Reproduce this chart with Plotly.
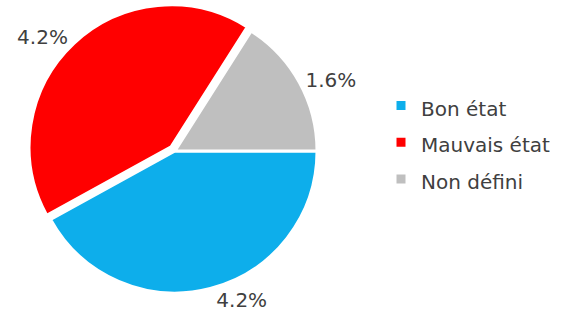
import plotly.graph_objects as go

# Condition of the inventory
categories = ["Bon état", "Mauvais état", "Non défini"]
values = [4.2, 4.2, 1.6]
colors = ["#0DAEEB", "#FF0000", "#BFBFBF"]
pulls = [0, 0.04, 0]

FONT = "DejaVu Sans"
TEXT_COLOR = "#404040"

# Legend rows are spaced by the legend font size; the visible label text is
# rendered at a smaller size through an inline span.
legend_labels = [f"<span style='font-size:20px'>{c}</span>" for c in categories]

fig = go.Figure(
    go.Pie(
        labels=legend_labels,
        values=values,
        sort=False,
        direction="clockwise",
        rotation=90,
        pull=pulls,
        marker=dict(colors=colors, line=dict(color="white", width=3)),
        texttemplate="%{value}%",
        textposition="outside",
        outsidetextfont=dict(family=FONT, size=20, color=TEXT_COLOR),
        automargin=False,
        domain=dict(x=[0.0475, 0.5612], y=[0.0865, 0.9899]),
        hoverinfo="label+value",
    )
)

fig.update_layout(
    width=575,
    height=327,
    margin=dict(l=0, r=0, t=0, b=0, autoexpand=False),
    paper_bgcolor="white",
    plot_bgcolor="white",
    font=dict(family=FONT, color=TEXT_COLOR),
    legend=dict(
        x=381 / 575,
        xanchor="left",
        y=1 - 142.5 / 327,
        yanchor="middle",
        font=dict(family=FONT, size=26, color=TEXT_COLOR),
        bgcolor="rgba(0,0,0,0)",
    ),
)

fig.write_html("out.html")
